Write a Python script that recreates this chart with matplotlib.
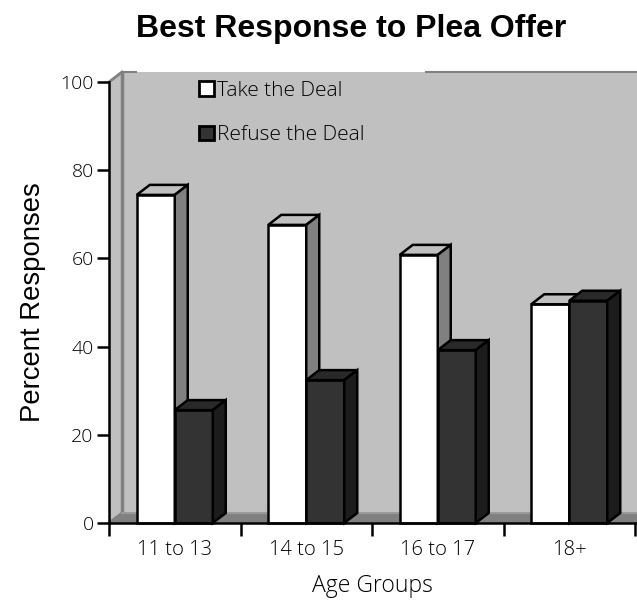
import matplotlib
matplotlib.use("Agg")
import matplotlib.pyplot as plt
from matplotlib.patches import Polygon, Patch

categories = ["11 to 13", "14 to 15", "16 to 17", "18+"]
take_deal = [74.4, 67.6, 60.8, 49.6]
refuse_deal = [25.6, 32.4, 39.2, 50.4]
series_names = ["Take the Deal", "Refuse the Deal"]

W, H = 637, 603
fig = plt.figure(figsize=(W / 100, H / 100), dpi=100)
L, R, T, B = 109, 637, 82, 523
ax = fig.add_axes([L / W, 1 - B / H, (R - L) / W, (B - T) / H])
XMAX = (R - L) / 131.5
ax.set_xlim(0, XMAX)
ax.set_ylim(0, 100)
ax.set_facecolor("none")
sx = XMAX / (R - L)
sy = 100 / (B - T)
dx = 13 * sx
dy = 10 * sy
bw = 38 * sx

GREY = "#C0C0C0"
MID = "#808080"
# wall, side wall, floor
ax.add_patch(Polygon([(dx, dy), (XMAX, dy), (XMAX, 100 + dy), (dx, 100 + dy)], fc=GREY, ec="none", clip_on=False, zorder=1))
ax.add_patch(Polygon([(0, 0), (dx, dy), (dx, 100 + dy), (0, 100)], fc=GREY, ec="none", clip_on=False, zorder=1))
ax.add_patch(Polygon([(0, 0), (dx, dy), (XMAX, dy), (XMAX, 0)], fc=MID, ec="none", clip_on=False, zorder=1.1))
ax.plot([dx, dx], [dy, 100 + dy], color=MID, lw=2.5, zorder=1.2, clip_on=False, solid_capstyle="butt")
ax.plot([0, dx], [100, 100 + dy], color=MID, lw=2, zorder=1.2, clip_on=False)
ax.plot([0, dx], [0, dy], color=MID, lw=2, zorder=1.2, clip_on=False)
ax.plot([dx, XMAX], [dy, dy], color="#9A9A9A", lw=1.5, zorder=1.2, clip_on=False)
for a, b in [(dx, (137 - L) * sx), ((425 - L) * sx, XMAX)]:
    ax.plot([a, b], [100 + dy, 100 + dy], color=MID, lw=1.5, zorder=1.2, clip_on=False, solid_capstyle="butt")


def bar3d(x0, h, front, top, side, z):
    x1 = x0 + bw
    kw = dict(ec="black", lw=1.8, joinstyle="miter", clip_on=False, zorder=z)
    ax.add_patch(Polygon([(x0, 0), (x1, 0), (x1, h), (x0, h)], fc=front, **kw))
    ax.add_patch(Polygon([(x0, h), (x1, h), (x1 + dx, h + dy), (x0 + dx, h + dy)], fc=top, **kw))
    ax.add_patch(Polygon([(x1, 0), (x1 + dx, dy), (x1 + dx, h + dy), (x1, h)], fc=side, **kw))


for i, (a, b) in enumerate(zip(take_deal, refuse_deal)):
    c = i + 0.5
    bar3d(c - bw, a, "white", GREY, MID, 3 + i)
    bar3d(c, b, "#333333", "#292929", "#1C1C1C", 3.5 + i)

for s in ["top", "right"]:
    ax.spines[s].set_visible(False)
for s in ["left", "bottom"]:
    ax.spines[s].set_linewidth(1.8)
    ax.spines[s].set_zorder(10)

font = ["Open Sans", "DejaVu Sans"]
ax.set_yticks(range(0, 101, 20))
ax.set_xticks(range(0, 5))
ax.set_xticklabels([])
ax.tick_params(axis="both", width=1.8, colors="black")
ax.tick_params(axis="x", direction="out", length=9)
ax.tick_params(axis="y", length=9, labelsize=14, pad=2)
for t in ax.get_yticklabels():
    t.set_family(font)
    t.set_fontweight("light")
for i, name in enumerate(categories):
    ax.text(i + 0.5, -6.2, name, ha="center", va="center", fontsize=14.5, family=font, fontweight="light")

fig.text(351 / W, 1 - 29 / H, "Best Response to Plea Offer", ha="center", va="center",
         fontsize=23, fontweight="bold", family="Liberation Sans")
fig.text(372 / W, 1 - 586 / H, "Age Groups", ha="center", va="center", fontsize=16.5, family=font, fontweight="light")
fig.text(33 / W, 1 - 302 / H, "Percent Responses", ha="center", va="center", rotation=90,
         fontsize=19.8, family="Liberation Sans")

handles = [Patch(fc="white", ec="black", lw=2), Patch(fc="#333333", ec="black", lw=2)]
leg = ax.legend(handles, series_names, loc="upper left", bbox_to_anchor=((199 - L) / (R - L), 1.003),
                frameon=False, handlelength=0.7, handleheight=0.7, handletextpad=0.15,
                labelspacing=1.18, borderpad=0, borderaxespad=0,
                prop={"family": font, "size": 15, "weight": "light"})
leg.set_zorder(20)
fig.savefig("out.png", dpi=100)
